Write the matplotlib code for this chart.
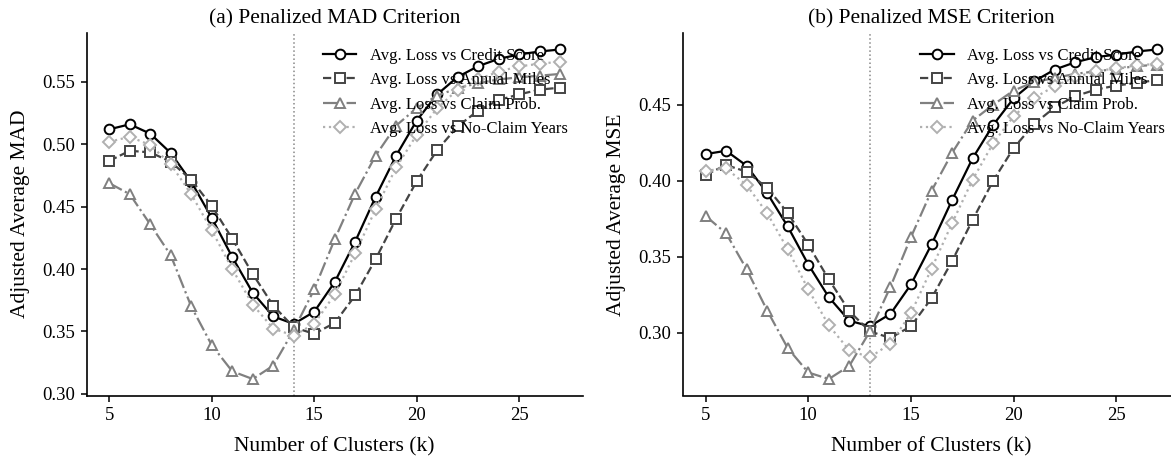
import matplotlib
matplotlib.use("Agg")
import matplotlib.pyplot as plt

plt.rcParams['font.family'] = ['Liberation Serif', 'DejaVu Serif']

k_values = list(range(5, 28))

credit_mad = [0.512, 0.516, 0.5085, 0.493, 0.470, 0.441, 0.4096, 0.381, 0.362, 0.356, 0.3657,
              0.3895, 0.422, 0.458, 0.491, 0.519, 0.540, 0.554, 0.5626, 0.5685, 0.572, 0.5744, 0.576]
miles_mad = [0.4867, 0.4948, 0.4935, 0.486, 0.4715, 0.4506, 0.4243, 0.396, 0.3707, 0.3533, 0.348,
             0.3568, 0.3788, 0.408, 0.4404, 0.4704, 0.4953, 0.5144, 0.527, 0.5355, 0.540, 0.5438, 0.5454]
claim_mad = [0.4688, 0.460, 0.4358, 0.411, 0.370, 0.339, 0.318, 0.3118, 0.3225, 0.351, 0.3836,
             0.4238, 0.4605, 0.491, 0.515, 0.529, 0.539, 0.545, 0.549, 0.552, 0.5537, 0.555, 0.5564]
noclaim_mad = [0.502, 0.506, 0.4994, 0.484, 0.460, 0.431, 0.400, 0.3715, 0.3522, 0.3466, 0.356,
               0.3796, 0.4125, 0.448, 0.4814, 0.5076, 0.5289, 0.5438, 0.552, 0.5583, 0.5625, 0.5645, 0.5663]

credit_mse = [0.4176, 0.4198, 0.4099, 0.3919, 0.370, 0.345, 0.3235, 0.308, 0.3044, 0.3125, 0.3319,
              0.3582, 0.3873, 0.4148, 0.4367, 0.4543, 0.4655, 0.4732, 0.478, 0.4814, 0.483, 0.4851, 0.4864]
miles_mse = [0.404, 0.4104, 0.406, 0.3954, 0.3789, 0.358, 0.3352, 0.3143, 0.301, 0.2967, 0.3044,
             0.3228, 0.3472, 0.3743, 0.400, 0.4216, 0.4374, 0.4484, 0.4557, 0.460, 0.4627, 0.4644, 0.4664]
claim_mse = [0.3769, 0.3655, 0.3418, 0.3147, 0.290, 0.274, 0.2697, 0.2784, 0.301, 0.3303, 0.3630,
             0.3934, 0.4183, 0.4396, 0.450, 0.4594, 0.465, 0.4676, 0.4704, 0.472, 0.4737, 0.4755, 0.4763]
noclaim_mse = [0.4066, 0.4082, 0.3972, 0.3787, 0.355, 0.3286, 0.305, 0.2885, 0.284, 0.293, 0.313,
               0.3422, 0.3721, 0.4007, 0.4247, 0.4425, 0.4546, 0.4623, 0.4682, 0.472, 0.4741, 0.4759, 0.477]

labels = ["Avg. Loss vs Credit Score", "Avg. Loss vs Annual Miles",
          "Avg. Loss vs Claim Prob.", "Avg. Loss vs No-Claim Years"]
titles = ["(a) Penalized MAD Criterion", "(b) Penalized MSE Criterion"]
ylabels = ["Adjusted Average MAD", "Adjusted Average MSE"]
xlabel = "Number of Clusters (k)"
best_k = [14, 13]

styles = [
    dict(color='#000000', linestyle='-', marker='o', ms=7),
    dict(color='#444444', linestyle='--', marker='s', ms=6.5),
    dict(color='#808080', linestyle='-.', marker='^', ms=7),
    dict(color='#b0b0b0', linestyle=':', marker='D', ms=6),
]

fig = plt.figure(figsize=(11.71, 4.59), dpi=100)
W, H = 1171, 459
ax1 = fig.add_axes([86.7 / W, (H - 395.5) / H, 496 / W, 362.5 / H])
ax2 = fig.add_axes([683 / W, (H - 395.5) / H, 497 / W, 362.5 / H])

panels = [
    (ax1, [credit_mad, miles_mad, claim_mad, noclaim_mad]),
    (ax2, [credit_mse, miles_mse, claim_mse, noclaim_mse]),
]

for i, (ax, series) in enumerate(panels):
    for vals, lab, st in zip(series, labels, styles):
        ax.plot(k_values, vals, label=lab, color=st['color'], linestyle=st['linestyle'],
                marker=st['marker'], markersize=st['ms'], markerfacecolor='white',
                markeredgecolor=st['color'], markeredgewidth=1.4, linewidth=1.6)
    ax.axvline(best_k[i], color='#888888', linestyle=':', linewidth=1.1, zorder=0)
    ax.set_title(titles[i], fontsize=15.5, pad=7)
    ax.set_xlabel(xlabel, fontsize=15.5, labelpad=9)
    ax.set_ylabel(ylabels[i], fontsize=15.5, labelpad=9)
    ax.set_xticks([5, 10, 15, 20, 25])
    ax.yaxis.set_major_formatter(matplotlib.ticker.FormatStrFormatter('%.2f'))
    ax.tick_params(labelsize=13.5, length=4.5, width=1.1, direction='out', pad=4)
    for s in ['top', 'right']:
        ax.spines[s].set_visible(False)
    for s in ['left', 'bottom']:
        ax.spines[s].set_linewidth(1.2)
    ax.legend(loc='upper right', frameon=False, fontsize=12, labelspacing=0.5)

fig.savefig("out.png", dpi=100)
